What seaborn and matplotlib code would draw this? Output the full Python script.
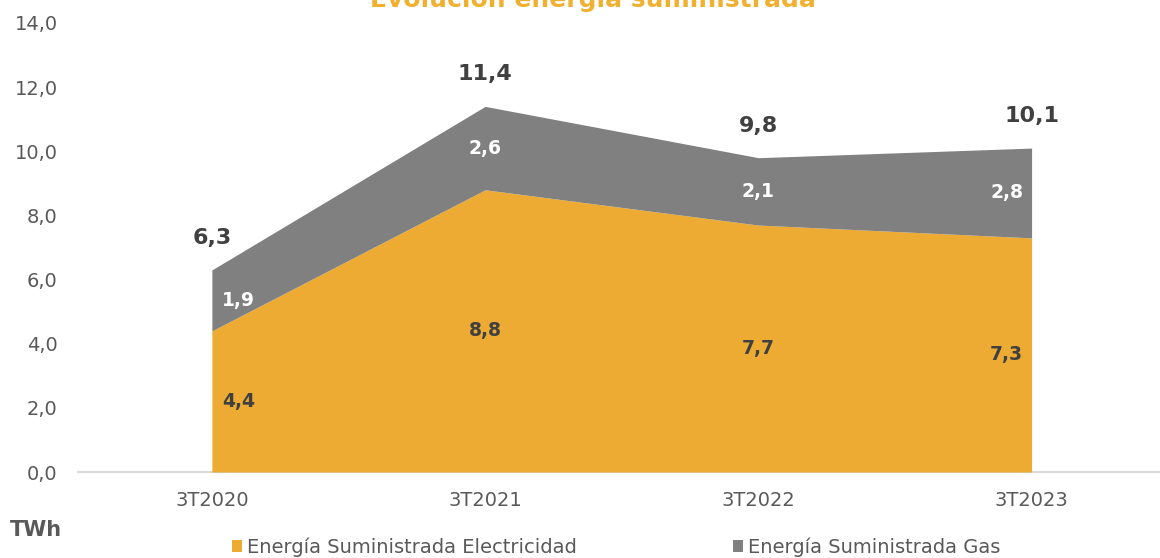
import matplotlib
matplotlib.use("Agg")
import matplotlib.pyplot as plt
import seaborn as sns
import numpy as np
from matplotlib.patches import Patch

categories = ["3T2020", "3T2021", "3T2022", "3T2023"]
electricidad = [4.4, 8.8, 7.7, 7.3]
gas = [1.9, 2.6, 2.1, 2.8]
totales = [6.3, 11.4, 9.8, 10.1]
yticks = [0, 2, 4, 6, 8, 10, 12, 14]

ORANGE = "#EDAB33"
GRAY = "#808080"
TXT = "#595959"
DARK = "#404040"

sns.set_theme(style="white")
plt.rcParams['font.family'] = ['DejaVu Sans']

fig = plt.figure(figsize=(11.6, 5.58), dpi=100)
ax = fig.add_axes([78/1160, 86/558, 1 - 78/1160, 449/558])

x = np.arange(len(categories))
elec = np.array(electricidad)
g = np.array(gas)
ax.stackplot(x, elec, g, colors=[ORANGE, GRAY], linewidth=0)

ax.set_xlim(-0.49, 3.47)
ax.set_ylim(0, 14)
ax.set_yticks(yticks)
ax.set_yticklabels([f"{v:.1f}".replace(".", ",") for v in yticks])
ax.set_xticks(x)
ax.set_xticklabels(categories)
ax.tick_params(axis='y', length=0, pad=14.5, labelsize=14, labelcolor=TXT)
ax.tick_params(axis='x', length=0, pad=14, labelsize=14, labelcolor=TXT)
sns.despine(ax=ax, left=True, top=True, right=True)
ax.spines['bottom'].set_color("#D9D9D9")
ax.spines['bottom'].set_linewidth(1.5)
ax.spines['bottom'].set_zorder(0)

def fmt(v):
    return f"{v:.1f}".replace(".", ",")

n = len(categories)
for i in range(n):
    dx = 19 if i == 0 else (-18 if i == n - 1 else 0)
    ax.annotate(fmt(elec[i]), (x[i], elec[i] / 2), xytext=(dx, 0),
                textcoords="offset points", ha="center", va="center",
                fontsize=13.5, fontweight="bold", color=DARK)
    ax.annotate(fmt(g[i]), (x[i], elec[i] + g[i] / 2), xytext=(dx, 0),
                textcoords="offset points", ha="center", va="center",
                fontsize=13.5, fontweight="bold", color="white")
    ax.annotate(fmt(totales[i]), (x[i], totales[i]), xytext=(0, 23),
                textcoords="offset points", ha="center", va="center",
                fontsize=16, fontweight="bold", color=DARK)

fig.text(593/1160, 1 - 7/558, "Evolución energía suministrada", ha="center",
         va="baseline", fontsize=18, fontweight="bold", color="#F0B030")

fig.text(10/1160, 1 - 530/558, "TWh", ha="left", va="center",
         fontsize=15, fontweight="bold", color=TXT)

handles = [Patch(facecolor=ORANGE, edgecolor="none"),
           Patch(facecolor=GRAY, edgecolor="none")]
labels = ["Energía Suministrada Electricidad", "Energía Suministrada Gas"]
leg = fig.legend(handles, labels, loc="center", bbox_to_anchor=(616/1160, 1 - 547/558),
                 ncol=2, frameon=False, fontsize=14, handlelength=0.55,
                 handleheight=0.55, handletextpad=0.25, columnspacing=8.0,
                 borderpad=0, borderaxespad=0)
for t in leg.get_texts():
    t.set_color(TXT)

fig.savefig("out.png", dpi=100)
